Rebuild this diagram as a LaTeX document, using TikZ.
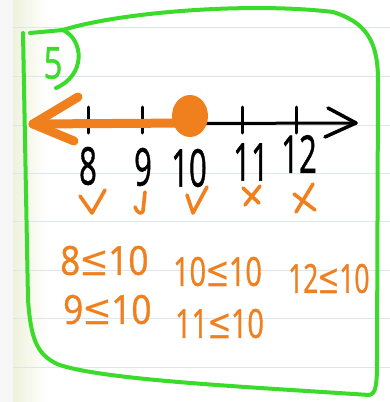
\documentclass[tikz,border=0pt]{standalone}
\usepackage{fontspec}
\setmainfont{Open Sans}
\newfontfamily\handfont[FakeBold=1.2]{Open Sans}
\usepackage{unicode-math}
\setmathfont{DejaVu Math TeX Gyre}
\definecolor{pen}{HTML}{F07F1E}
\definecolor{grn}{HTML}{3ADB2A}
\definecolor{rule}{HTML}{DCE6EE}
\definecolor{margin}{HTML}{EEF2DC}
\begin{document}
\begin{tikzpicture}[x=1pt,y=-1pt,
  hand/.style={line cap=round,line join=round},
  blk/.style={font=\handfont\fontsize{52}{52}\selectfont,text=black,xscale=0.6,inner sep=0pt},
  ineqbase/.style={font=\handfont\fontsize{40}{40}\selectfont,text=pen,inner sep=0pt,anchor=west},
  ineq/.style={ineqbase,xscale=0.88},
  ineqw/.style={ineqbase,xscale=0.72},
  marks/.style={hand,draw=pen,line width=3.6pt}]
\useasboundingbox (0,0) rectangle (390,402);
% paper
\fill[white] (0,0) rectangle (390,402);
\fill[gray!6] (0,0) rectangle (13,402);
\shade[left color=margin,right color=white] (13,0) rectangle (48,402);
\foreach \yy in {27,76,125,173,221,270,318,367}
  \draw[rule,line width=1pt] (13,\yy) -- (390,\yy);
% green frame
\draw[grn,hand,line width=4pt] (30,33) -- (63,30)
  .. controls (120,12) and (250,2) .. (333,12)
  .. controls (365,22) and (378,40) .. (378,80)
  -- (377,360) .. controls (377,385) and (376,394) .. (369,395)
  .. controls (250,387) and (100,380) .. (57,364)
  .. controls (37,354) and (31,340) .. (28,300)
  -- (23,33);
\draw[grn,hand,line width=4pt] (63,30) .. controls (84,40) and (86,75) .. (56,88);
\node[font=\handfont\fontsize{44}{44}\selectfont,text=grn,inner sep=0pt,xscale=0.75] (five) at (53,63) {5};
% number line
\coordinate (L) at (33,124);
\coordinate (R) at (356,123);
\draw[black,hand,line width=3pt] (L) -- (R);
\draw[black,hand,line width=3.5pt] (328,108) -- (R) -- (325,137);
\foreach \xx/\tn in {88/t8,142/t9,190/t10,242/t11,296/t12}
  \draw[black,hand,line width=3pt] (\xx,107) -- (\xx,133) coordinate (\tn);
% orange ray
\coordinate (D) at (190,116);
\coordinate (Dl) at (190,123);
\draw[pen,hand,line width=9pt] (L) -- (Dl);
\draw[pen,hand,line width=9pt] (78,97) -- (L) -- (74,141);
\fill[pen] (D) ellipse [x radius=18, y radius=21];
% labels
\node[blk] (n8) at (88,166) {8};
\node[blk] (n9) at (143,167) {9};
\node[blk] (n10) at (189,168) {10};
\node[blk] (n11) at (251,162) {11};
\node[blk] (n12) at (299,154) {12};
% marks
\draw[marks] (80,196) -- (92,213) -- (105,190);
\draw[marks] (145,192) -- (143,211) .. controls (142,215) and (137,213) .. (135,207);
\draw[marks] (187,195) -- (193,213) -- (207,187);
\draw[marks] (243,188) -- (259,203);
\draw[marks] (260,186) -- (245,205);
\draw[marks] (294,194) -- (315,210);
\draw[marks] (313,184) -- (296,212);
% inequalities
\node[ineq] (a) at (60,261) {8$\leq$10};
\node[ineqw] (b) at (173,272) {10$\leq$10};
\node[ineqbase,xscale=0.66] (c) at (288,279) {12$\leq$10};
\node[ineq] (d) at (63,310) {9$\leq$10};
\node[ineqw] (e) at (175,324) {11$\leq$10};
\end{tikzpicture}
\end{document}
